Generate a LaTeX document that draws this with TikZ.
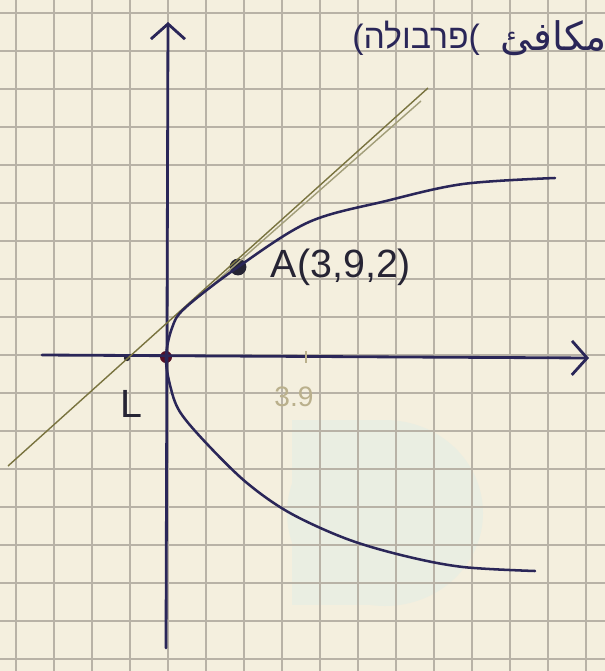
\documentclass[tikz,border=0pt]{standalone}
\usepackage{fontspec}
\setmainfont{Liberation Sans}
\newfontfamily\hebfont[Script=Hebrew]{Liberation Sans}
\newfontfamily\arabicfont[Script=Arabic]{DejaVu Sans}
\TeXXeTstate=1
\usepackage{tikz}
\usetikzlibrary{arrows.meta, positioning}

\definecolor{paper}{RGB}{244,239,222}
\definecolor{gridgray}{RGB}{184,178,166}
\definecolor{ink}{RGB}{42,38,88}
\definecolor{penblack}{RGB}{38,36,52}
\definecolor{tangentolive}{RGB}{122,116,64}
\definecolor{pencil}{RGB}{186,176,140}
\definecolor{watermark}{RGB}{234,238,226}

\begin{document}
\begin{tikzpicture}[
        % Repère en pixels de la photo (y vers le bas)
        x=0.025cm, y=-0.025cm,
        % Quadrillage du cahier
        gridline/.style = {draw=gridgray, line width=0.8pt},
        % Axes avec pointe ouverte
        axis/.style = {
            draw=ink,
            line width=2pt,
            line cap=round,
            -{Straight Barb[length=0.38cm, width=0.85cm]}
        },
        % Parabole
        curve/.style = {draw=ink, line width=1.8pt, line cap=round},
        % Tangente
        tangent/.style = {draw=tangentolive, line width=1pt},
        % Points
        dot/.style = {circle, fill=penblack, inner sep=0pt, minimum size=0.42cm},
        % Textes manuscrits
        handlabel/.style = {
            inner sep=0pt,
            text=penblack,
            font=\fontsize{28}{30}\selectfont
        },
        faintlabel/.style = {
            inner sep=0pt,
            text=pencil,
            font=\fontsize{20}{22}\selectfont
        },
        heading/.style = {
            inner sep=0pt,
            text=ink,
            font=\fontsize{24}{26}\selectfont
        }
    ]

        % 0. Feuille quadrillée
        \useasboundingbox (0,0) rectangle (605,671);
        \clip (0,0) rectangle (605,671);
        \fill [paper] (0,0) rectangle (605,671);
        \fill [watermark] (292,420) rectangle (385,605);
        \fill [watermark] (385,513) ellipse (98 and 93);
        \foreach \gx in {16,54,...,620}
            \draw [gridline] (\gx,0) -- (\gx,671);
        \foreach \gy in {13,51,...,671}
            \draw [gridline] (0,\gy) -- (605,\gy);

        % 1. Placement des nœuds (Nodes)
        \coordinate (yStart) at (166,648);
        \coordinate (yEnd)   at (168,22);
        \coordinate (xStart) at (42,355);
        \coordinate (xEnd)   at (589,358);
        \coordinate (tanLow)  at (8,466);
        \coordinate (tanHigh) at (428,88);
        \coordinate (tanMid)  at (200,296);
        \coordinate (tanTop)  at (421,101);
        \coordinate (tick)    at (306,357);

        \node (origin) [dot, fill=black!55!red!60!ink, minimum size=0.3cm] at (166,357) {};
        \node (ptA)    [dot] at (238,267) {};
        \node (ptL)    [dot, minimum size=0.16cm] at (127,358) {};

        % 2. Tracé des axes, de la tangente et de la parabole
        \draw [axis] (yStart) -- (yEnd);
        \draw [axis] (xStart) -- (xEnd);

        \draw [tangent] (tanLow) -- (tanHigh);
        \draw [tangent, draw=tangentolive!70] (tanMid) -- (tanTop);

        \draw [curve] plot [smooth, tension=0.55] coordinates {
            (555,178) (463,184) (386,201) (309,222) (238,267) (185,308)
            (172,328) (166,357) (170,385) (180,412) (208,445) (247,483)
            (290,513) (347,539) (405,556) (463,567) (535,571)};

        \draw [draw=pencil, line width=1pt] (tick) ++(0,-6) -- ++(0,12);

        % 3. Annotations
        \node (labA)  [handlabel, right=0.6cm of ptA] {A(3,9,2)};
        \node (labL)  [handlabel, below=0.72cm of ptL, xshift=0.1cm] {L};
        \node (lab39) [faintlabel, below=0.75cm of tick, xshift=-0.3cm] {3.9};

        \node (hebTitle) [heading, anchor=west] at (352,38)
            {(\hebfont\beginR פרבולה\endR)};
        \node (arTitle)  [heading, font=\fontsize{28}{30}\selectfont,
                          anchor=west, right=0.5cm of hebTitle]
            {\arabicfont\beginR مكافئ\endR};

    \end{tikzpicture}
\end{document}
